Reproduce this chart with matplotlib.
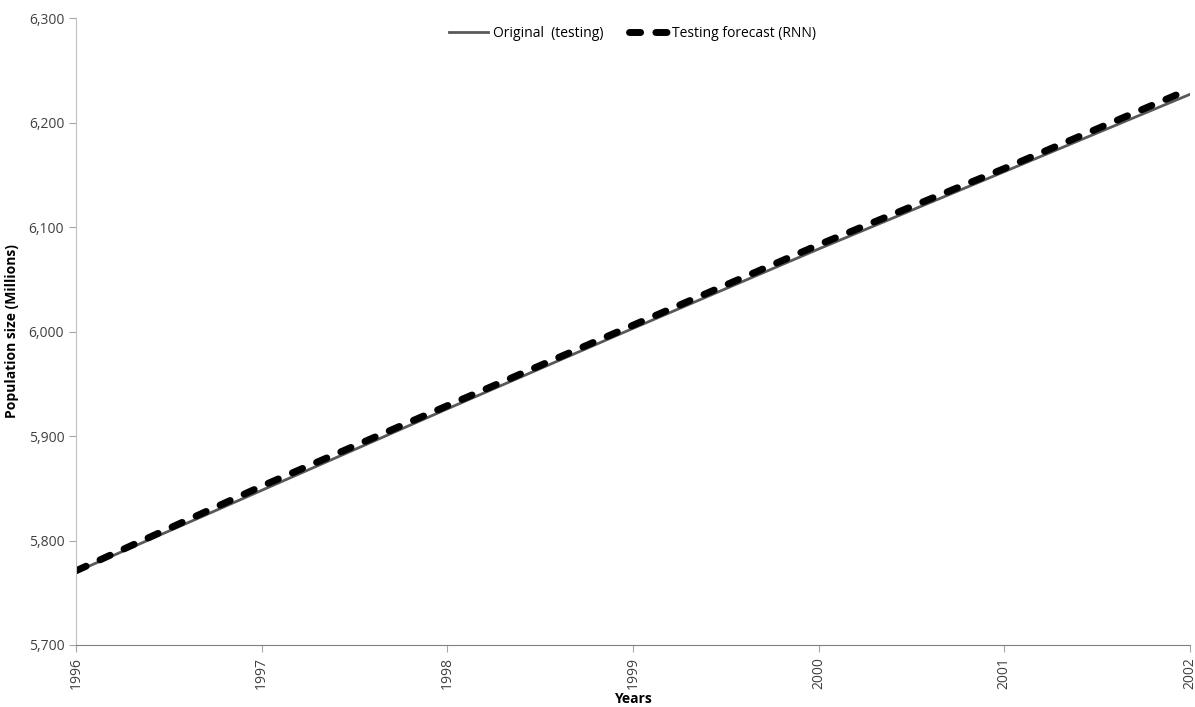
import matplotlib.pyplot as plt
import numpy as np

years = [1996, 1997, 1998, 1999, 2000, 2001, 2002]
original = [5770, 5848, 5926, 6003, 6079, 6153, 6227]
forecast = [5771, 5852, 5929, 6006, 6083, 6156, 6232]

def main():
    plt.rcParams['font.family'] = ['Open Sans', 'DejaVu Sans']
    fig = plt.figure(figsize=(11.95, 7.07), dpi=100)
    ax = fig.add_axes([0.0636, 0.0877, 0.9322, 0.8868])

    ax.plot(years, original, color='#595959', lw=2, label='Original  (testing)')
    ax.plot(years, forecast, color='black', lw=5, ls=(0, (1.6, 2.2)),
            dash_capstyle='round', label='Testing forecast (RNN)')

    ax.set_xlim(1996, 2002)
    ax.set_ylim(5700, 6300)
    ax.set_xticks(years)
    ax.set_xticklabels([str(y) for y in years], rotation=90)
    ax.set_yticks(np.arange(5700, 6301, 100))
    ax.set_yticklabels([f'{v:,}' for v in range(5700, 6301, 100)])
    ax.tick_params(labelsize=10, colors='#404040', length=5, color='#A6A6A6')

    for s in ['top', 'right']:
        ax.spines[s].set_visible(False)
    ax.spines['left'].set_color('#BFBFBF')
    ax.spines['bottom'].set_color('#808080')

    ax.set_xlabel('Years', fontsize=10, fontweight='bold', labelpad=2)
    ax.set_ylabel('Population size (Millions)', fontsize=10, fontweight='bold', labelpad=7)

    ax.legend(loc='center', bbox_to_anchor=(0.5, 0.976), ncol=2, frameon=False,
              fontsize=10, handlelength=2.8, columnspacing=1.9, handletextpad=0.3)

    fig.savefig('out.png', dpi=100)

if __name__ == "__main__":
    main()
